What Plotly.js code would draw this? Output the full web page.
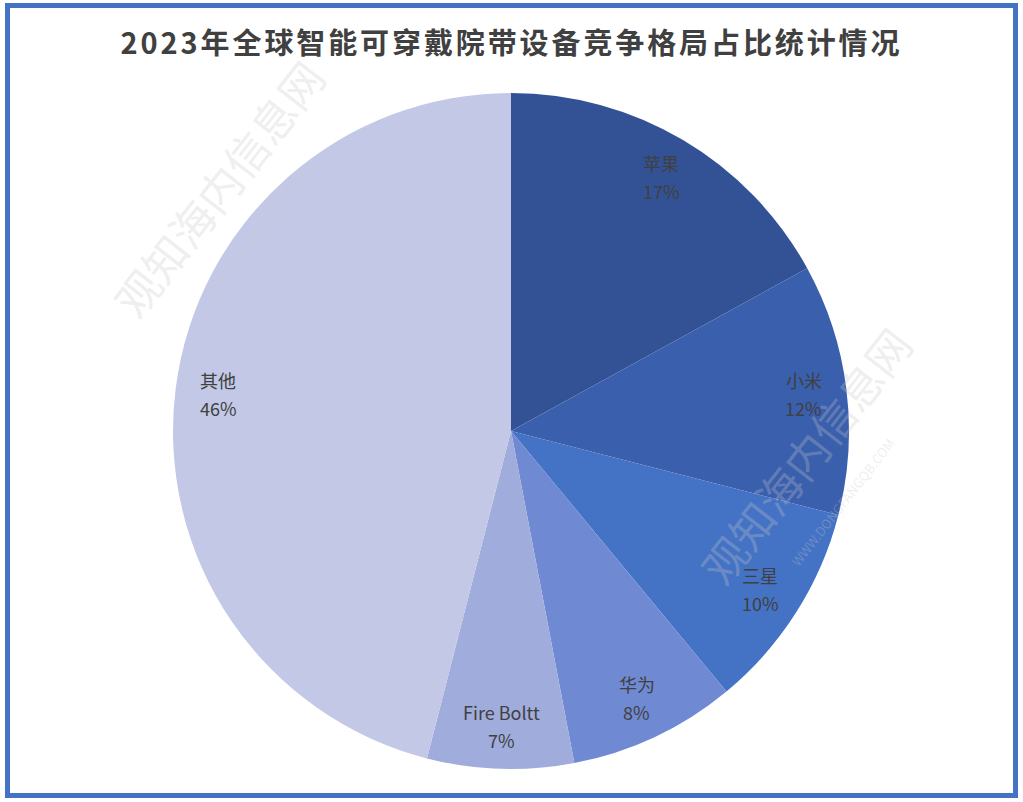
<!DOCTYPE html>
<html>
<head>
<meta charset="utf-8">
<script src="https://cdn.plot.ly/plotly-3.0.1.min.js"></script>
<style>
  html, body { margin: 0; padding: 0; background: #ffffff; }
  #chart { width: 1023px; height: 802px; }
  #chart .gtitle { letter-spacing: 2.9px; }
</style>
</head>
<body>
<div id="chart"></div>
<script>
// ---- data ----
const labels = ["苹果", "小米", "三星", "华为", "Fire Boltt", "其他"];
const values = [17, 12, 10, 8, 7, 46];
const colors = ["#335296", "#3a5fad", "#4472c4", "#6f8ad3", "#a0acdc", "#c3c8e6"];
const titleText = "2023年全球智能可穿戴院带设备竞争格局占比统计情况";

// ---- layout geometry (pixels) ----
const W = 1023, H = 802;
const cx = 511, cy = 431, R = 338;
const labelRadius = 0.873;

const total = values.reduce((a, b) => a + b, 0);
const annotations = [];
let cum = 0;
values.forEach((v, i) => {
  const mid = (cum + v / 2) / total;          // fraction clockwise from top
  cum += v;
  const ang = mid * 2 * Math.PI;
  const px = cx + Math.sin(ang) * R * labelRadius;
  const py = cy - Math.cos(ang) * R * labelRadius;
  const pct = Math.round(v / total * 100) + "%";
  const common = {
    xref: "paper", yref: "paper",
    x: px / W, y: 1 - py / H,
    showarrow: false, xanchor: "center", yanchor: "middle",
    font: { family: "Noto Sans CJK SC, Noto Sans, sans-serif", size: 18, color: "#404040" }
  };
  annotations.push(Object.assign({}, common, { text: labels[i], yshift: 14 }));
  annotations.push(Object.assign({}, common, { text: pct, yshift: -14 }));
});

// faint watermarks
const wm = [
  { x: 218, y: 188, t: "观知海内信息网", s: 44 },
  { x: 255, y: 235, t: "WWW.DONGFANGQB.COM", s: 13 },
  { x: 805, y: 455, t: "观知海内信息网", s: 44 },
  { x: 842, y: 502, t: "WWW.DONGFANGQB.COM", s: 13 }
];
wm.forEach(w => annotations.push({
  xref: "paper", yref: "paper", x: w.x / W, y: 1 - w.y / H,
  xanchor: "center", yanchor: "middle",
  text: w.t, showarrow: false, textangle: -52,
  font: { family: "Noto Sans CJK SC, sans-serif", size: w.s, color: "rgba(200,200,200,0.3)" }
}));

const trace = {
  type: "pie",
  labels: labels,
  values: values,
  sort: false,
  direction: "clockwise",
  rotation: 0,
  marker: { colors: colors, line: { width: 0 } },
  textinfo: "none",
  hoverinfo: "label+percent",
  showlegend: false,
  domain: { x: [(cx - R) / W, (cx + R) / W], y: [1 - (cy + R) / H, 1 - (cy - R) / H] }
};

const layout = {
  width: W, height: H,
  margin: { l: 0, r: 0, t: 0, b: 0 },
  paper_bgcolor: "#ffffff",
  title: {
    text: "<b>" + titleText + "</b>",
    x: 0.5, xanchor: "center", y: 1 - 44 / H, yanchor: "middle",
    font: { family: "Noto Sans CJK SC, sans-serif", size: 29, color: "#404040" }
  },
  annotations: annotations,
  shapes: [{
    type: "rect", xref: "paper", yref: "paper",
    x0: 7.5 / W, x1: 1015.5 / W, y0: 1 - 795.5 / H, y1: 1 - 5.5 / H,
    line: { color: "#4472c4", width: 5 }, fillcolor: "rgba(0,0,0,0)"
  }]
};

Plotly.newPlot("chart", [trace], layout, { displayModeBar: false, staticPlot: true });
</script>
</body>
</html>
